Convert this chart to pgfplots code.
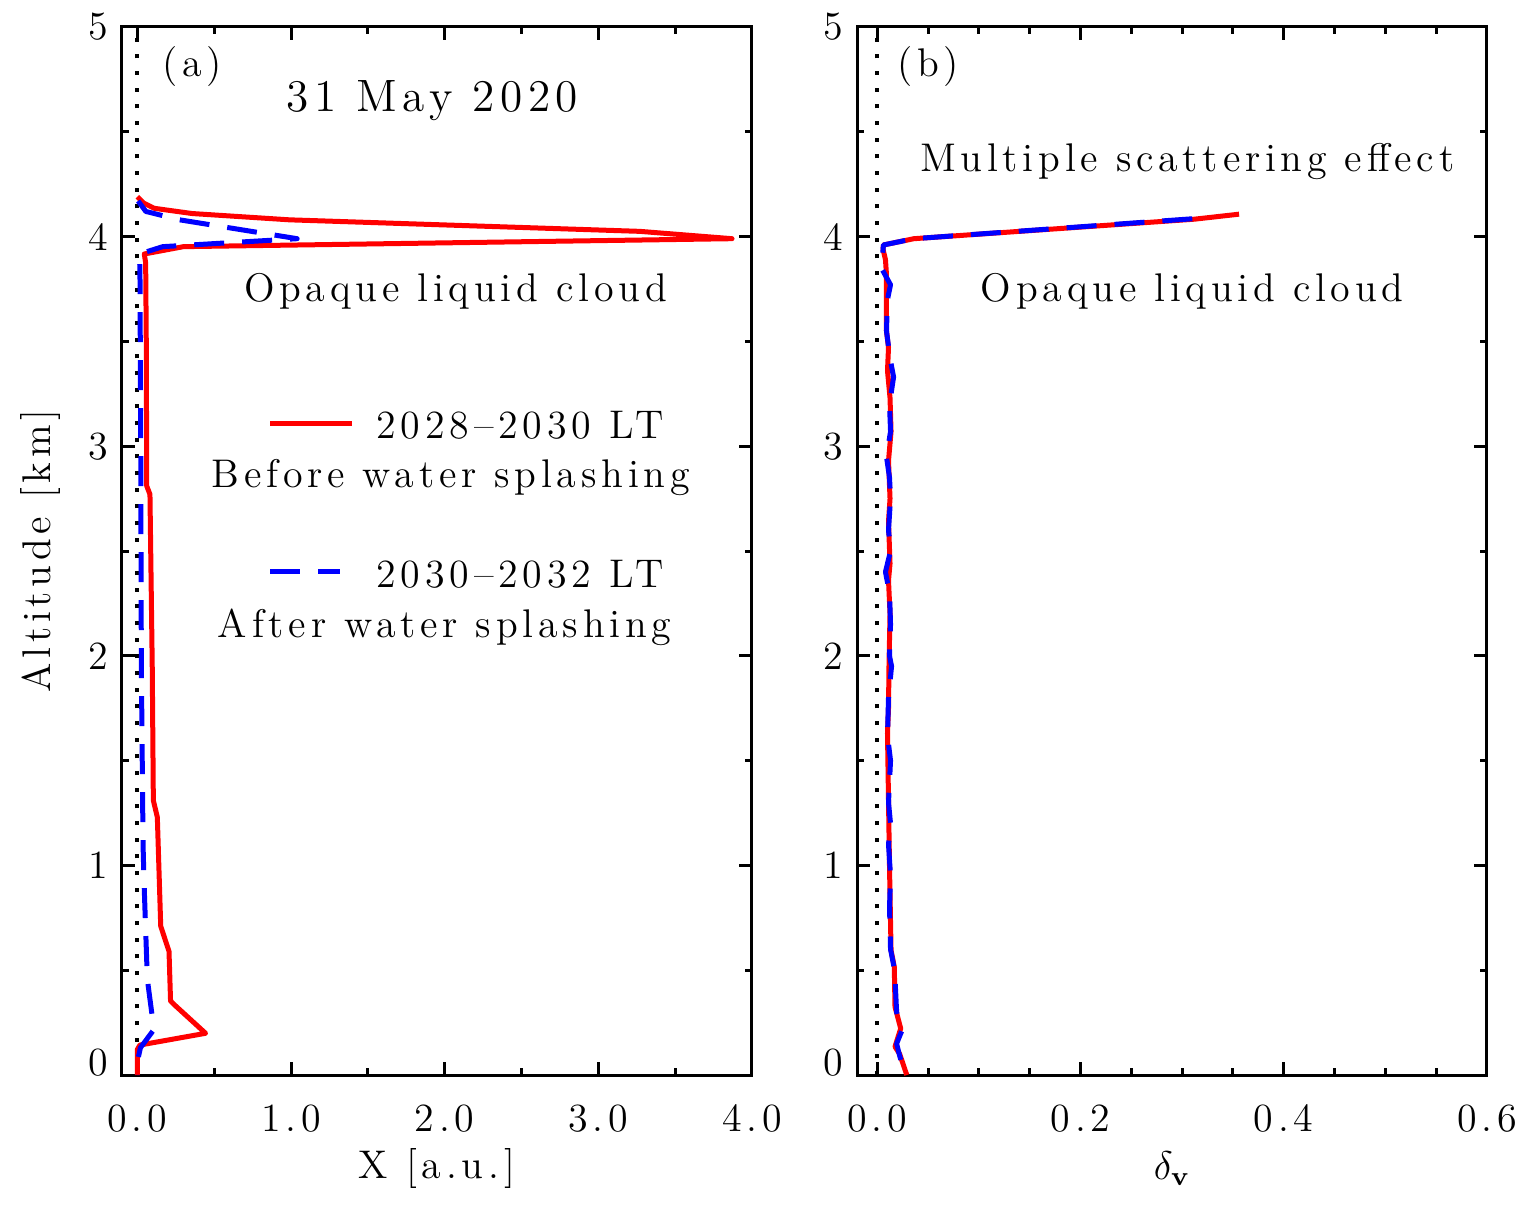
\documentclass[border=0pt]{standalone}
\usepackage{fontspec}
\setmainfont{Latin Modern Roman}[LetterSpace=12]
\usepackage{pgfplots}
\pgfplotsset{compat=1.18}
\definecolor{myred}{RGB}{255,0,0}
\definecolor{myblue}{RGB}{0,0,255}
\tikzset{
  redl/.style={myred, line width=1.5pt, line join=round},
  bluel/.style={myblue, line width=1.5pt, line join=round, dash pattern=on 9pt off 5.4pt},
  dotl/.style={black, line width=1.2pt, dash pattern=on 1.2pt off 3.8pt},
}
\pgfplotsset{
  common/.style={
    scale only axis, width=189pt, height=314.4pt,
    ymin=0, ymax=5,
    ytick={1,2,3,4,5},
    extra y ticks={0},
    extra y tick style={yticklabel style={yshift=3.8pt}},
    minor ytick={0.5,1.5,2.5,3.5,4.5},
    major tick length=4pt, minor tick length=2pt,
    tick align=inside,
    axis line style={line width=0.9pt},
    every tick/.style={black, line width=0.9pt},
    /pgf/number format/assume math mode=true,
    xticklabel style={anchor=base, yshift=-16.8pt, /pgf/number format/.cd, fixed, fixed zerofill, precision=1},
    ylabel style={at={(axis description cs:-0.130,0.5)}, anchor=center},
    xlabel style={at={(axis description cs:0.5,-0.089)}, anchor=center},
    clip=true,
  },
}
\begin{document}
\fontsize{12}{14}\selectfont
\begin{tikzpicture}
\path[use as bounding box] (-36.6pt,-42pt) rectangle (423.3pt,322.5pt);
\begin{axis}[common, at={(0pt,0pt)}, anchor=south west,
  xmin=-0.1, xmax=4,
  xtick={0,1,2,3,4}, minor xtick={0.5,1.5,2.5,3.5},
  xlabel={X [a.u.]}, ylabel={Altitude [km]}]
\addplot[dotl] coordinates {(0,0) (0,5)};
\addplot[redl] coordinates {
(0.0,4.19) (0.041,4.16) (0.11,4.135) (0.357,4.11) (0.99,4.08) (3.27,4.025) (3.87,3.99)
(0.30,3.952) (0.045,3.917) (0.054,3.875) (0.058,3.5) (0.061,2.81) (0.082,2.77)
(0.097,1.94) (0.104,1.31) (0.13,1.23) (0.152,0.71) (0.206,0.59) (0.216,0.353)
(0.238,0.337) (0.444,0.199) (0.017,0.143) (0.0,0.122) (0.0,0.0)};
\addplot[bluel] coordinates {
(0.005,4.17) (0.055,4.12) (0.275,4.08) (1.04,3.99) (0.165,3.952) (0.014,3.917)
(0.017,3.82) (0.022,3.0) (0.026,1.94) (0.037,1.1) (0.043,0.93) (0.065,0.456)
(0.108,0.217) (0.02,0.13) (0.005,0.08) (0.0,0.0)};
\draw[redl] (axis cs:0.864,3.107) -- (axis cs:1.396,3.107);
\draw[bluel] (axis cs:0.864,2.40) -- (axis cs:1.318,2.40);
\node at (axis cs:0.357,4.81) {(a)};
\node[font=\fontsize{13.6}{15}\selectfont] at (axis cs:1.92,4.65) {31 May 2020};
\node at (axis cs:2.07,3.74) {Opaque liquid cloud};
\node at (axis cs:2.49,3.10) {2028--2030 LT};
\node at (axis cs:2.04,2.85) {Before water splashing};
\node at (axis cs:2.49,2.39) {2030--2032 LT};
\node at (axis cs:2.0,2.135) {After water splashing};
\end{axis}
\begin{axis}[common, at={(220.5pt,0pt)}, anchor=south west,
  xmin=-0.02, xmax=0.6,
  xtick={0,0.2,0.4,0.6},
  minor xtick={0.05,0.1,0.15,0.25,0.3,0.35,0.45,0.5,0.55},
  xlabel={$\delta_{\mathbf{v}}$}]
\addplot[dotl] coordinates {(0,0) (0,5)};
\addplot[redl] coordinates {
(0.356,4.107) (0.312,4.083) (0.036,3.99) (0.006,3.96) (0.0056,3.94) (0.008,3.89)
(0.009,3.82) (0.009,3.55) (0.011,3.47) (0.010,3.36) (0.0125,3.23) (0.0135,3.07)
(0.011,2.93) (0.0125,2.75) (0.011,2.64) (0.0125,2.44) (0.011,2.36) (0.0125,2.2)
(0.0115,1.96) (0.011,1.75) (0.010,1.63) (0.011,1.31) (0.012,0.99) (0.0135,0.595)
(0.0167,0.516) (0.0174,0.325) (0.023,0.222) (0.0174,0.135) (0.022,0.10) (0.029,0.0)};
\addplot[bluel] coordinates {
(0.31,4.085) (0.036,3.99) (0.006,3.96) (0.005,3.9) (0.004,3.85) (0.013,3.77)
(0.01,3.7) (0.009,3.55) (0.0125,3.42) (0.016,3.33) (0.012,3.2) (0.013,3.07)
(0.009,2.95) (0.012,2.85) (0.013,2.75) (0.011,2.6) (0.013,2.5) (0.008,2.4)
(0.012,2.3) (0.013,2.15) (0.012,2.0) (0.014,1.95) (0.011,1.8) (0.010,1.62)
(0.013,1.5) (0.011,1.3) (0.013,1.2) (0.011,1.1) (0.013,0.95) (0.012,0.8)
(0.013,0.6) (0.017,0.5) (0.019,0.3) (0.024,0.21) (0.019,0.15) (0.021,0.11) (0.027,0.0)};
\node at (axis cs:0.050,4.81) {(b)};
\node at (axis cs:0.305,4.356) {Multiple scattering effect};
\node at (axis cs:0.310,3.74) {Opaque liquid cloud};
\end{axis}
\end{tikzpicture}
\end{document}
